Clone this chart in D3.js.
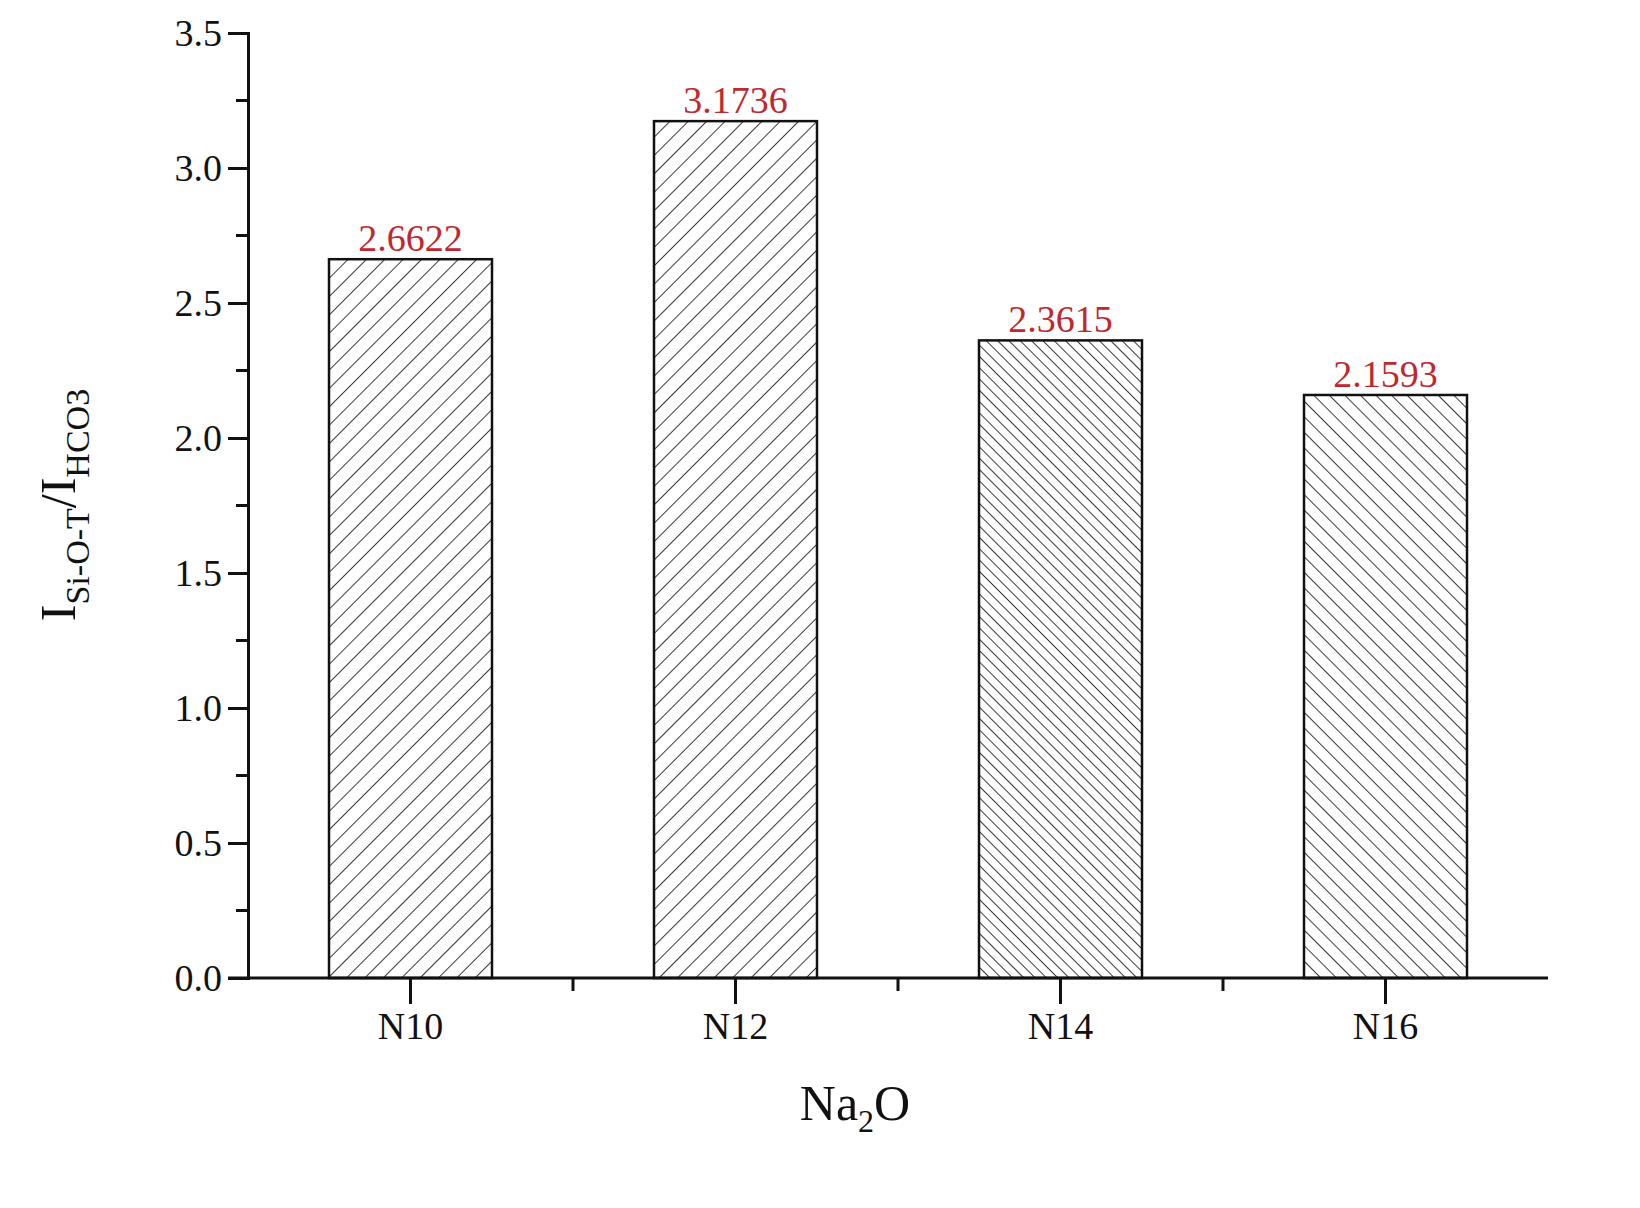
<!DOCTYPE html>
<html lang="en">
<head>
<meta charset="utf-8">
<script src="https://d3js.org/d3.v7.min.js"></script>
<style>body{margin:0;background:#fff;} text{font-family:"Liberation Serif","Times New Roman",serif;}</style>
</head>
<body>
<script>
var categories = ["N10", "N12", "N14", "N16"];
var values = [2.6622, 3.1736, 2.3615, 2.1593];
var labels = ["2.6622", "3.1736", "2.3615", "2.1593"];
var yTicks = [0, 0.5, 1, 1.5, 2, 2.5, 3, 3.5];

var w = 1640, h = 1208;
var mLeft = 248, mRight = 1548, mTop = 33, mBottom = 978;

var svg = d3.select("body").append("svg").attr("width", w).attr("height", h);
var defs = svg.append("defs");

// hatch patterns: [angle, spacing]
var hatches = [[45, 13], [45, 13], [-45, 8], [-45, 11]];
hatches.forEach(function(hh, i) {
    var p = defs.append("pattern").attr("id", "hatch" + i)
        .attr("patternUnits", "userSpaceOnUse")
        .attr("width", hh[1]).attr("height", hh[1])
        .attr("patternTransform", "rotate(" + hh[0] + ")");
    p.append("rect").attr("width", hh[1]).attr("height", hh[1]).attr("fill", "#fff");
    p.append("line").attr("x1", 0).attr("y1", 0).attr("x2", 0).attr("y2", hh[1])
        .attr("stroke", "#222").attr("stroke-width", 1.8);
});

var x = d3.scaleBand().domain(categories).range([mLeft, mRight]).paddingInner(0).paddingOuter(0);
var y = d3.scaleLinear().domain([0, 3.5]).range([mBottom, mTop]);
var barW = 163;

svg.selectAll("rect.bar").data(values).enter().append("rect")
    .attr("class", "bar")
    .attr("x", function(d, i) { return x(categories[i]) + x.bandwidth() / 2 - barW / 2; })
    .attr("y", function(d) { return y(d); })
    .attr("width", barW)
    .attr("height", function(d) { return y(0) - y(d); })
    .attr("fill", function(d, i) { return "url(#hatch" + i + ")"; })
    .attr("stroke", "#111").attr("stroke-width", 2.5);

svg.selectAll("text.val").data(values).enter().append("text")
    .attr("x", function(d, i) { return x(categories[i]) + x.bandwidth() / 2; })
    .attr("y", function(d) { return y(d) - 8; })
    .attr("text-anchor", "middle").attr("font-size", 38).attr("fill", "#c0282d")
    .text(function(d, i) { return labels[i]; });

// y axis
var ya = svg.append("g").attr("transform", "translate(" + mLeft + ",0)")
    .call(d3.axisLeft(y).tickValues(yTicks).tickFormat(d3.format(".1f")).tickSize(20).tickPadding(6));
var yMinor = d3.range(0.25, 3.5, 0.5);
ya.selectAll("line.minor").data(yMinor).enter().append("line").attr("class", "minor")
    .attr("x1", 0).attr("x2", -12).attr("y1", function(d) { return y(d); }).attr("y2", function(d) { return y(d); })
    .attr("stroke", "#111").attr("stroke-width", 3);

// x axis
var xa = svg.append("g").attr("transform", "translate(0," + mBottom + ")")
    .call(d3.axisBottom(x).tickSize(26).tickPadding(8));
var xMinor = categories.slice(1).map(function(c) { return x(c); });
xa.selectAll("line.minor").data(xMinor).enter().append("line").attr("class", "minor")
    .attr("x1", function(d) { return d; }).attr("x2", function(d) { return d; })
    .attr("y1", 0).attr("y2", 13).attr("stroke", "#111").attr("stroke-width", 3);

[ya, xa].forEach(function(g) {
    g.select(".domain").attr("stroke", "#111").attr("stroke-width", 3);
    g.selectAll(".tick line").attr("stroke", "#111").attr("stroke-width", 3);
    g.selectAll(".tick text").attr("font-size", 38).attr("fill", "#111")
        .attr("font-family", "Liberation Serif, serif");
});
xa.select(".domain").attr("d", "M" + (mLeft - 20) + ",0H" + mRight);

// axis titles
svg.append("text").attr("x", 855).attr("y", 1120).attr("text-anchor", "middle")
    .attr("font-size", 50).attr("fill", "#111")
    .html('Na<tspan font-size="32" dy="12">2</tspan><tspan dy="-12">O</tspan>');

svg.append("text").attr("transform", "translate(75,505) rotate(-90)")
    .attr("text-anchor", "middle").attr("font-size", 50).attr("fill", "#111")
    .html('I<tspan font-size="34" dy="14">Si-O-T</tspan><tspan dy="-14">/I</tspan><tspan font-size="34" dy="14">HCO3</tspan>');
</script>
</body>
</html>
